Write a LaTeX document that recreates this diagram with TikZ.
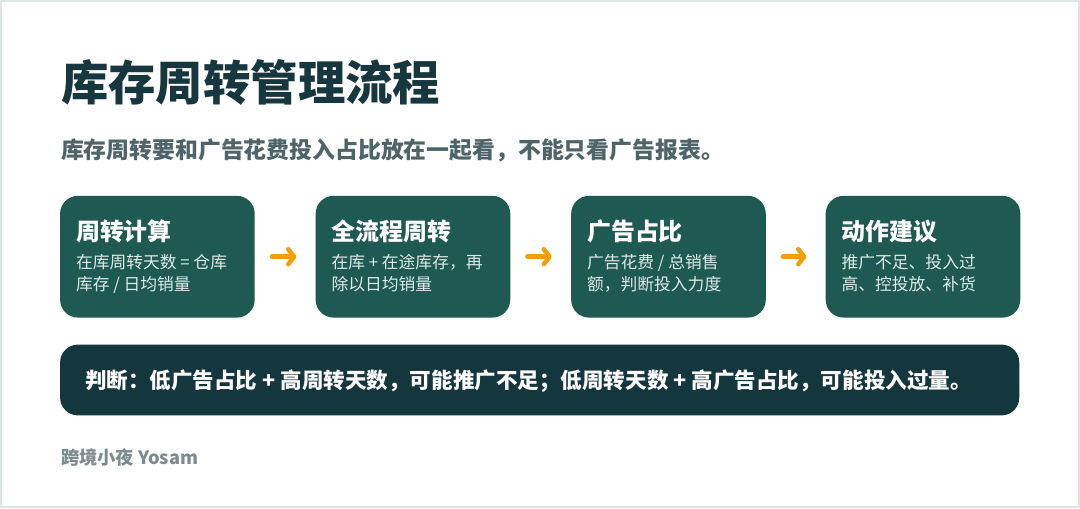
\documentclass[tikz,border=0pt]{standalone}
\usepackage{fontspec}
\setmainfont{Noto Sans CJK SC}
\usepackage{xcolor}
\usepackage{tikz}
\usetikzlibrary{positioning}
\usetikzlibrary{arrows.meta}
\definecolor{framegrey}{HTML}{DDE7E5}
\definecolor{titleink}{HTML}{17373E}
\definecolor{subink}{HTML}{4F6468}
\definecolor{footink}{HTML}{7E8B8E}
\definecolor{cardgreen}{HTML}{1F5A52}
\definecolor{cardtext}{HTML}{DDEAE6}
\definecolor{bardark}{HTML}{14363D}
\definecolor{arroworange}{HTML}{F0A10A}
\tikzstyle{card}=[rectangle,rounded corners=18pt,fill=cardgreen,minimum width=195pt,minimum height=122pt,inner sep=0pt,anchor=north west]
\tikzstyle{cardtitle}=[anchor=base west,inner sep=0pt,text=white,font=\fontsize{24}{28}\selectfont\bfseries]
\tikzstyle{cardbody}=[anchor=base west,inner sep=0pt,align=left,text=cardtext,font=\fontsize{16.8}{22}\selectfont]
\tikzstyle{flow} = [draw=arroworange,line width=4.5pt,line cap=round,-{Straight Barb[length=6pt,width=15pt,round]},shorten <=17pt,shorten >=19pt]
\tikzset{bar/.style={rectangle,rounded corners=18pt,fill=bardark,minimum width=961pt,minimum height=71pt,inner sep=0pt,anchor=north west}}

\begin{document}
\begin{tikzpicture}[x=1pt,y=-1pt]

  \path[fill=white,draw=framegrey,line width=2pt] (0,0) rectangle (1080,507);
  \useasboundingbox (0,0) rectangle (1080,507);

  \node[anchor=base west,inner sep=0pt,text=titleink,font=\fontsize{47.5}{52}\selectfont\bfseries] (title) at (60,100) {库存周转管理流程};
  \node[anchor=base west,inner sep=0pt,text=subink,font=\fontsize{22.9}{26}\selectfont\bfseries] (subtitle) at (60,158) {库存周转要和广告花费投入占比放在一起看，不能只看广告报表。};

  \foreach \x/\name/\head/\body in {59/c1/周转计算/{在库周转天数 = 仓库\\库存 / 日均销量},
                                    315/c2/全流程周转/{在库 + 在途库存，再\\除以日均销量},
                                    571/c3/广告占比/{广告花费 / 总销售\\额，判断投入力度},
                                    826/c4/动作建议/{推广不足、投入过\\高、控投放、补货}}
  {
    \node[card] (\name) at (\x,195) {};
    \node[cardtitle] (\name t) at (\x+16,240) {\head};
    \node[cardbody] (\name b) at (\x+16,290) {\body};
  }

  \foreach \source/\dest in {c1/c2, c2/c3, c3/c4}
         \path[flow] (\source) -- (\dest);

  \node[bar] (verdict) at (59,344) {};
  \node[anchor=base west,inner sep=0pt,text=white,font=\fontsize{21.6}{25}\selectfont\bfseries] (verdictt) at (84,388) {判断：低广告占比 + 高周转天数，可能推广不足；低周转天数 + 高广告占比，可能投入过量。};

  \node[anchor=base west,inner sep=0pt,text=footink,font=\fontsize{18.3}{21}\selectfont\bfseries] (footer) at (60,464) {跨境小夜 Yosam};

\end{tikzpicture}
\end{document}
